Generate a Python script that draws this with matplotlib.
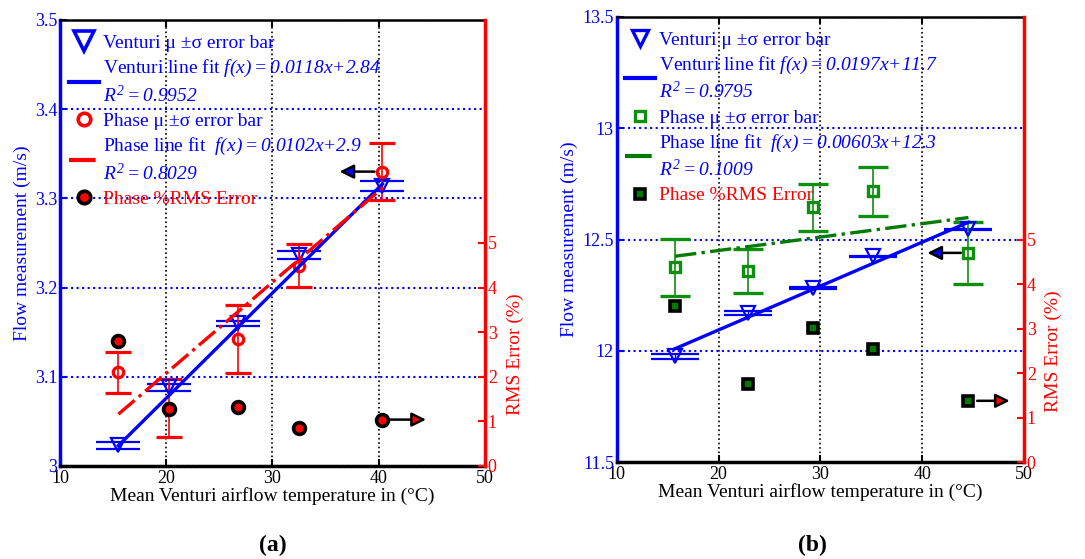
import matplotlib
matplotlib.use('Agg')
import matplotlib.pyplot as plt
from matplotlib.lines import Line2D
import numpy as np

plt.rcParams['font.family'] = ['Liberation Serif', 'DejaVu Serif']
plt.rcParams['mathtext.fontset'] = 'custom'
plt.rcParams['mathtext.rm'] = 'Liberation Serif:italic'
plt.rcParams['mathtext.it'] = 'Liberation Serif:italic'
plt.rcParams['mathtext.bf'] = 'Liberation Serif:bold'

# ---------------- data: panel (a) ----------------
a_temp = [15.5, 20.3, 26.8, 32.5, 40.35]
a_venturi_mean = [3.023, 3.088, 3.160, 3.2365, 3.314]
a_venturi_sd = [0.004, 0.004, 0.003, 0.004, 0.0055]
a_phase_mean = [3.105, 3.065, 3.142, 3.2245, 3.330]
a_phase_sd = [0.023, 0.032, 0.038, 0.024, 0.032]
a_rms = [2.80, 1.27, 1.32, 0.85, 1.04]
a_venturi_fit = (0.0118, 2.84)
a_phase_fit = (0.0102, 2.90)
a_venturi_fit_label = 'Venturi line fit $f(x) = 0.0118x{+}2.84$\n$R^2 = 0.9952$'
a_phase_fit_label = 'Phase line fit  $f(x) = 0.0102x{+}2.9$\n$R^2 = 0.8029$'
a_arrow_left = ((39.6, 3.33), (36.3, 3.33))
a_arrow_right = ((41.06, 1.04), (44.45, 1.04))

# ---------------- data: panel (b) ----------------
b_temp = [15.73, 22.87, 29.31, 35.2, 44.54]
b_venturi_mean = [11.975, 12.170, 12.282, 12.425, 12.545]
b_venturi_sd = [0.010, 0.010, 0.003, 0.003, 0.003]
b_phase_mean = [12.376, 12.358, 12.645, 12.716, 12.440]
b_phase_sd = [0.128, 0.098, 0.105, 0.111, 0.140]
b_rms = [3.50, 1.76, 3.01, 2.55, 1.38]
b_venturi_fit = (0.0197, 11.70)
b_phase_fit = (0.00603, 12.33)
b_venturi_fit_label = 'Venturi line fit $f(x) = 0.0197x{+}11.7$\n$R^2 = 0.9795$'
b_phase_fit_label = 'Phase line fit  $f(x) = 0.00603x{+}12.3$\n$R^2 = 0.1009$'
b_arrow_left = ((43.8, 12.44), (40.5, 12.44))
b_arrow_right = ((45.4, 1.38), (48.6, 1.38))

x_ticks = [10, 20, 30, 40, 50]
rms_ticks = [0, 1, 2, 3, 4, 5]
a_y_ticks = [3.0, 3.1, 3.2, 3.3, 3.4, 3.5]
a_y_ticklabels = ['3', '3.1', '3.2', '3.3', '3.4', '3.5']
b_y_ticks = [11.5, 12.0, 12.5, 13.0, 13.5]
b_y_ticklabels = ['11.5', '12', '12.5', '13', '13.5']

GREEN = '#0f8f0f'
DKGREEN = '#007a00'
FS = 13
LBS = 14
LFS = 14

fig = plt.figure(figsize=(10.85, 5.59), dpi=100)


def style_axes(ax1, ax2, yticks, yticklabels, ylim):
    ax1.set_xlim(10, 50)
    ax1.set_ylim(*ylim)
    ax1.set_xticks(x_ticks)
    ax1.set_yticks(yticks)
    ax1.set_yticklabels(yticklabels)
    ax2.set_ylim(0, 10)
    ax2.set_yticks(rms_ticks)
    ax1.spines['right'].set_visible(False)
    ax1.spines['left'].set_color('blue')
    ax1.spines['left'].set_linewidth(2.5)
    ax1.spines['bottom'].set_linewidth(2.5)
    ax1.spines['top'].set_linewidth(1.8)
    ax2.spines['right'].set_color('red')
    ax2.spines['right'].set_linewidth(2.5)
    ax2.spines['left'].set_visible(False)
    ax2.spines['top'].set_visible(False)
    ax2.spines['bottom'].set_visible(False)
    ax1.tick_params(axis='x', direction='in', top=True, length=5, width=1.5,
                    labelsize=FS, pad=3)
    ax1.tick_params(axis='y', direction='in', colors='blue', length=5, width=1.5,
                    labelsize=FS, pad=2)
    ax2.tick_params(axis='y', direction='in', colors='red', length=5, width=1.5,
                    labelsize=FS, pad=2)
    ax1.xaxis.grid(True, color='black', ls=':', lw=1.2)
    ax1.yaxis.grid(True, color='blue', ls=':', lw=1.5)
    ax1.set_axisbelow(True)
    ax1.set_xlabel('Mean Venturi airflow temperature in (°C)', fontsize=LBS, labelpad=0)
    ax1.set_ylabel('Flow measurement (m/s)', fontsize=LBS, color='blue', labelpad=3)
    ax2.set_ylabel('RMS Error (%)', fontsize=LBS, color='red', labelpad=2)
    ax2.yaxis.set_label_coords(1.05, 0.25)


def arrow(ax, seg, face):
    (x0, y0), (x1, y1) = seg
    ax.annotate('', xy=(x1, y1), xytext=(x0, y0),
                arrowprops=dict(arrowstyle='-|>,head_length=0.85,head_width=0.42',
                                fc=face, ec='black', lw=1.8, shrinkA=0, shrinkB=0))


def make_legend(ax, handles, labels):
    leg = ax.legend(handles, labels, loc='upper left', bbox_to_anchor=(0.02, 0.968),
                    frameon=False, fontsize=LFS, handlelength=1.55, handletextpad=0.2,
                    labelspacing=0.33, borderpad=0, borderaxespad=0)
    for t, c in zip(leg.get_texts(), ['blue', 'blue', 'blue', 'blue', 'red']):
        t.set_color(c)
        t.set_linespacing(1.3)
    return leg


# ================= panel (a) =================
ax1 = fig.add_axes([0.0553, 0.1664, 0.3917, 0.7979])
ax2 = ax1.twinx()
style_axes(ax1, ax2, a_y_ticks, a_y_ticklabels, (3.0, 3.5))

ta = np.array(a_temp)
ax1.errorbar(ta, a_venturi_mean, yerr=a_venturi_sd, fmt='v', ms=10, mew=1.6,
             mfc='none', mec='blue', ecolor='blue', elinewidth=1, capsize=16,
             capthick=1.3, zorder=3)
ax1.errorbar(ta, a_phase_mean, yerr=a_phase_sd, fmt='o', ms=7.5, mew=2.3,
             mfc='none', mec='red', ecolor='red', elinewidth=1.2, capsize=9.6,
             capthick=1.2, zorder=3)
ax1.plot(ta, a_venturi_fit[0] * ta + a_venturi_fit[1], color='blue', lw=2.4, zorder=4)
ax1.plot(ta, a_phase_fit[0] * ta + a_phase_fit[1], color='red', lw=2.4, ls='-.', zorder=4)
ax2.plot(ta, a_rms, ls='none', marker='o', ms=8.5, mfc='red', mec='black', mew=2.6, zorder=5)
arrow(ax1, a_arrow_left, 'blue')
arrow(ax2, a_arrow_right, 'red')

ha = [Line2D([], [], ls='none', marker='v', mfc='none', mec='blue', ms=14, mew=2.6),
      Line2D([], [], color='blue', lw=3),
      Line2D([], [], ls='none', marker='o', mfc='none', mec='red', ms=9, mew=2.6),
      Line2D([], [], color='red', lw=3, ls='-.'),
      Line2D([], [], ls='none', marker='o', mfc='red', mec='black', ms=9, mew=2.6)]
la = ['Venturi μ ±σ error bar', a_venturi_fit_label, 'Phase μ ±σ error bar',
      a_phase_fit_label, 'Phase %RMS Error']
make_legend(ax2, ha, la)

# ================= panel (b) =================
bx1 = fig.add_axes([0.5684, 0.1730, 0.3754, 0.7971])
bx2 = bx1.twinx()
style_axes(bx1, bx2, b_y_ticks, b_y_ticklabels, (11.5, 13.5))

tb = np.array(b_temp)
bx1.errorbar(tb, b_venturi_mean, yerr=b_venturi_sd, fmt='v', ms=9.5, mew=1.6,
             mfc='none', mec='blue', ecolor='blue', elinewidth=1, capsize=17.5,
             capthick=1.3, zorder=3)
bx1.errorbar(tb, b_phase_mean, yerr=b_phase_sd, fmt='s', ms=6.5, mew=2.4,
             mfc='none', mec=GREEN, ecolor=GREEN, elinewidth=1.2, capsize=11,
             capthick=1.2, zorder=3)
bx1.plot(tb, b_venturi_fit[0] * tb + b_venturi_fit[1], color='blue', lw=2.4, zorder=4)
bx1.plot(tb, b_phase_fit[0] * tb + b_phase_fit[1], color=DKGREEN, lw=2.4, ls='-.', zorder=4)
bx2.plot(tb, b_rms, ls='none', marker='s', ms=6.5, mfc=DKGREEN, mec='black', mew=2.6, zorder=5)
arrow(bx1, b_arrow_left, 'blue')
arrow(bx2, b_arrow_right, 'red')

hb = [Line2D([], [], ls='none', marker='v', mfc='none', mec='blue', ms=11, mew=2.4),
      Line2D([], [], color='blue', lw=3),
      Line2D([], [], ls='none', marker='s', mfc='none', mec=GREEN, ms=6.5, mew=2.4),
      Line2D([], [], color=DKGREEN, lw=3, ls='-.'),
      Line2D([], [], ls='none', marker='s', mfc=DKGREEN, mec='black', ms=6.5, mew=2.6)]
lb = ['Venturi μ ±σ error bar', b_venturi_fit_label, 'Phase μ ±σ error bar',
      b_phase_fit_label, 'Phase %RMS Error']
make_legend(bx2, hb, lb)

fig.text(273 / 1085, 1 - 545 / 559, '(a)', fontsize=17, fontweight='bold',
         ha='center', va='center')
fig.text(812 / 1085, 1 - 545 / 559, '(b)', fontsize=17, fontweight='bold',
         ha='center', va='center')

fig.savefig('out.png', dpi=100)
